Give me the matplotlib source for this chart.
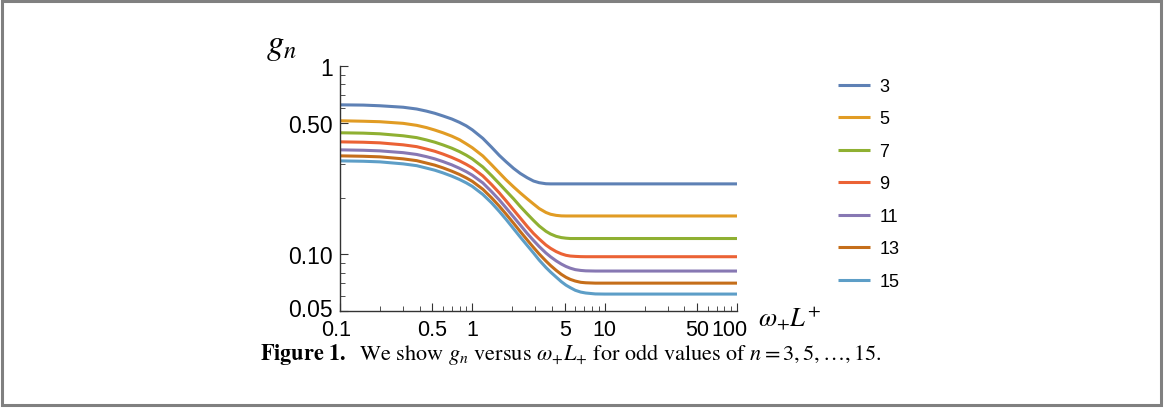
import matplotlib
matplotlib.use("Agg")
import matplotlib.pyplot as plt
import matplotlib.transforms as mtrans
from matplotlib.patches import Rectangle
from matplotlib.ticker import FixedLocator, NullFormatter

plt.rcParams['mathtext.fontset'] = 'stix'

x_vals = [0.1, 0.15, 0.2, 0.3, 0.38, 0.45, 0.52, 0.6, 0.7, 0.8,
          0.9, 1.0, 1.2, 1.4, 1.6, 1.8, 2.05, 2.3, 2.6, 2.9,
          3.2, 3.6, 3.9, 4.3, 4.7, 5.1, 5.5, 6.0, 6.6, 7.2,
          8.5, 10, 100]

g3 = [0.622, 0.620, 0.615, 0.604, 0.591, 0.576, 0.561, 0.543, 0.523, 0.502,
      0.481, 0.458, 0.413, 0.370, 0.335, 0.310, 0.286, 0.269, 0.255, 0.245,
      0.240, 0.237, 0.2366, 0.2366, 0.2366, 0.2366, 0.2366, 0.2366, 0.2366, 0.2366,
      0.2366, 0.2366, 0.2366]
g5 = [0.512, 0.509, 0.506, 0.496, 0.484, 0.471, 0.457, 0.442, 0.424, 0.406,
      0.386, 0.368, 0.333, 0.2985, 0.2707, 0.2485, 0.228, 0.212, 0.197, 0.185,
      0.175, 0.1668, 0.1632, 0.1610, 0.1600, 0.1598, 0.1598, 0.1598, 0.1598, 0.1598,
      0.1598, 0.1598, 0.1598]
g7 = [0.442, 0.440, 0.4365, 0.426, 0.4165, 0.405, 0.394, 0.381, 0.366, 0.351,
      0.336, 0.321, 0.291, 0.2615, 0.237, 0.217, 0.197, 0.1796, 0.1638, 0.1513,
      0.1414, 0.1325, 0.1282, 0.1246, 0.1227, 0.1218, 0.1213, 0.1213, 0.1213, 0.1213,
      0.1213, 0.1213, 0.1213]
g9 = [0.3956, 0.3937, 0.3908, 0.3814, 0.373, 0.3622, 0.3526, 0.3407, 0.3268, 0.3135,
      0.3004, 0.2878, 0.2609, 0.2343, 0.2118, 0.1921, 0.1720, 0.156, 0.1406, 0.1290,
      0.1206, 0.1120, 0.1076, 0.1034, 0.1006, 0.0988, 0.0979, 0.0975, 0.0972, 0.0971,
      0.0971, 0.0971, 0.0971]
g11 = [0.3587, 0.3569, 0.3543, 0.3466, 0.3390, 0.3301, 0.3213, 0.3108, 0.2985, 0.2863,
       0.2747, 0.2631, 0.2395, 0.2149, 0.1944, 0.1763, 0.1579, 0.1432, 0.1290, 0.1184,
       0.110, 0.1016, 0.0970, 0.0923, 0.0888, 0.0862, 0.0844, 0.0829, 0.0821, 0.0817,
       0.0815, 0.0815, 0.0815]
g13 = [0.3333, 0.3316, 0.3293, 0.3213, 0.3143, 0.3052, 0.2975, 0.2878, 0.2763, 0.2654,
       0.2546, 0.2440, 0.2216, 0.1993, 0.180, 0.1634, 0.1462, 0.1322, 0.1191, 0.1087,
       0.1004, 0.0921, 0.0872, 0.0822, 0.0783, 0.0755, 0.0736, 0.0721, 0.0710, 0.0706,
       0.0703, 0.0703, 0.0703]
g15 = [0.3135, 0.3120, 0.3097, 0.3022, 0.2956, 0.2870, 0.2797, 0.2707, 0.260, 0.2497,
       0.2395, 0.2294, 0.208, 0.1874, 0.1689, 0.1532, 0.1367, 0.1236, 0.1114, 0.1016,
       0.0932, 0.0851, 0.0805, 0.0757, 0.0716, 0.0686, 0.0665, 0.0644, 0.0630, 0.0623,
       0.0616, 0.0615, 0.0615]

n_labels = ["3", "5", "7", "9", "11", "13", "15"]
series = [g3, g5, g7, g9, g11, g13, g15]
colors = ['#5E81B5', '#E19C24', '#8FB032', '#EB6235', '#8778B3', '#C56E1A', '#5D9EC7']

x_ticks = [0.1, 0.5, 1, 5, 10, 50, 100]
x_ticklabels = ["0.1", "0.5", "1", "5", "10", "50", "100"]
y_ticks = [0.05, 0.1, 0.5, 1]
y_ticklabels = ["0.05", "0.10", "0.50", "1"]

fig = plt.figure(figsize=(11.74, 4.10), dpi=100)
ax = fig.add_axes([340 / 1174, 1 - 312 / 410, 397 / 1174, 245 / 410])

for g, lab, c in zip(series, n_labels, colors):
    ax.plot(x_vals, g, color=c, lw=2.2, label=lab, solid_capstyle='butt')

ax.set_xscale('log')
ax.set_yscale('log')
ax.set_xlim(0.1, 100)
ax.set_ylim(0.05, 1)

for s in ['top', 'right']:
    ax.spines[s].set_visible(False)
for s in ['left', 'bottom']:
    ax.spines[s].set_linewidth(1.0)
    ax.spines[s].set_color('#333333')

ax.xaxis.set_major_locator(FixedLocator(x_ticks))
ax.set_xticklabels(x_ticklabels)
ax.yaxis.set_major_locator(FixedLocator(y_ticks))
ax.set_yticklabels(y_ticklabels)
x_minor = [k * 10.0 ** e for e in (-1, 0, 1) for k in range(2, 10)]
y_minor = [k * 10.0 ** e for e in (-2, -1) for k in range(2, 10)]
ax.xaxis.set_minor_locator(FixedLocator(x_minor))
ax.yaxis.set_minor_locator(FixedLocator(y_minor))
ax.xaxis.set_minor_formatter(NullFormatter())
ax.yaxis.set_minor_formatter(NullFormatter())
ax.tick_params(which='major', direction='in', length=6, width=0.8, color='#333333')
ax.tick_params(which='minor', direction='in', length=3.5, width=0.6, color='#333333')
ax.tick_params(axis='x', which='major', pad=6, labelsize=15.5)
ax.tick_params(axis='y', which='major', pad=5, labelsize=16.5)
for t in ax.get_xticklabels() + ax.get_yticklabels():
    t.set_family('Liberation Sans')

# end labels sit a little inward, as in the original
px = fig.dpi_scale_trans
xt = ax.get_xticklabels()
xt[0].set_transform(xt[0].get_transform() + mtrans.ScaledTranslation(-4 / 100, 0, px))
xt[-1].set_transform(xt[-1].get_transform() + mtrans.ScaledTranslation(-8 / 100, 0, px))
yt = ax.get_yticklabels()
yt[0].set_transform(yt[0].get_transform() + mtrans.ScaledTranslation(0, 4 / 100, px))

fig.text(266 / 1174, 1 - 46 / 410, r'$g_n$', fontsize=25, ha='left', va='center')
fig.text(758 / 1174, 1 - 319 / 410, r'$\omega_{+}L^{+}$', fontsize=19, ha='left', va='center')

leg = fig.legend(loc='upper left', bbox_to_anchor=(838 / 1174, 1 - 79 / 410), frameon=False,
                 borderpad=0, borderaxespad=0,
                 handlelength=1.75, labelspacing=0.857, handletextpad=0.55,
                 prop={'family': 'Liberation Sans', 'size': 13})

fig.text(571 / 1174, 1 - 355 / 410,
         r'$\mathbf{Figure\ 1.}$  We show $g_n$ versus $\omega_{+}L_{+}$ for odd values of $n=3,5,\ldots,15$.',
         family='STIXGeneral', fontsize=16, ha='center', va='center')

fig.patches.append(Rectangle((1.5 / 1174, 1 - 406 / 410), 1159.5 / 1174, 404 / 410,
                             transform=fig.transFigure, fill=False, edgecolor='#808080', lw=2.2))

fig.savefig('out.png', dpi=100)
